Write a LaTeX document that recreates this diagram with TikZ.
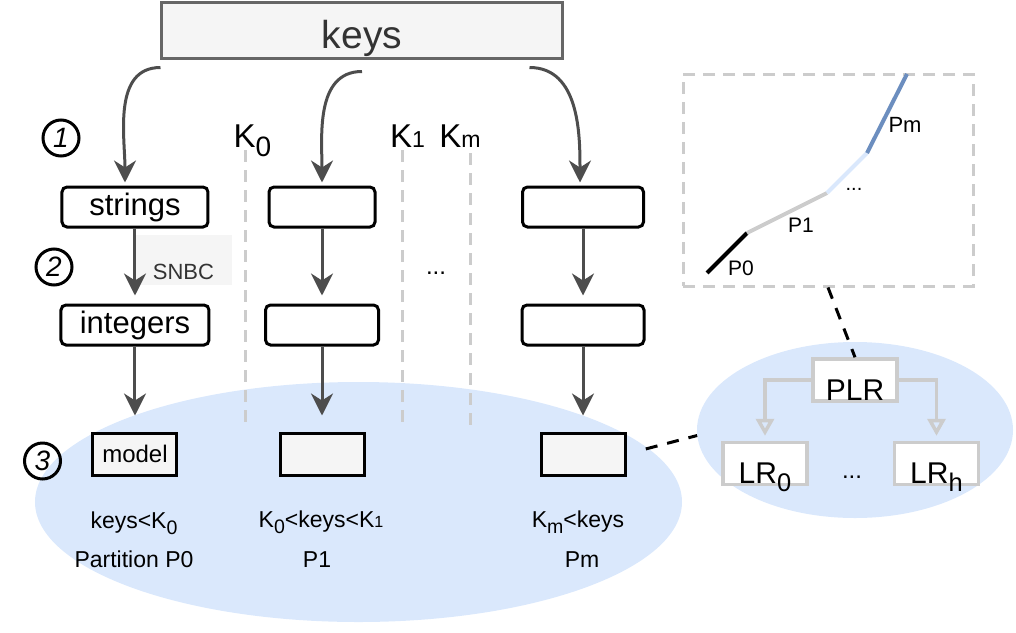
\documentclass[tikz,border=0pt]{standalone}
\usepackage{fontspec}
\setmainfont{Liberation Sans}
\usepackage{graphicx}
\usetikzlibrary{arrows.meta,shapes.geometric,positioning}

\definecolor{arrowgray}{HTML}{4D4D4D}
\definecolor{headgray}{HTML}{666666}
\definecolor{headtext}{HTML}{333333}
\definecolor{boxgray}{HTML}{F5F5F5}
\definecolor{sepgray}{HTML}{CCCCCC}
\definecolor{zoneblue}{HTML}{DAE8FC}
\definecolor{segblue}{HTML}{6C8EBF}

\newcommand{\lsub}[1]{\raisebox{-0.28em}{\scalebox{0.85}{#1}}}
\newcommand{\ssm}[1]{\scalebox{0.7}{#1}}

\tikzstyle{line} = [draw, -{Stealth[length=22pt, width=22pt, inset=7pt]}, line width=3pt, arrowgray]
\tikzstyle{tree} = [draw, -{Triangle[open, length=17pt, width=18pt]}, line width=3.5pt, sepgray]
\tikzstyle{link} = [draw, dash pattern=on 12pt off 10pt, line width=3pt, black]
\tikzstyle{sep} = [draw, dash pattern=on 12pt off 8pt, line width=3pt, sepgray]
\tikzstyle{knot} = [node distance=0mm]
\tikzstyle{head} = [draw=headgray, rectangle, fill=boxgray, text=headtext, line width=3pt, minimum width=400pt, minimum height=56pt, text height=44pt, text depth=8pt, inner ysep=2pt, font=\fontsize{39}{42}\selectfont, node distance=0mm]
\tikzstyle{stage} = [draw, rectangle, rounded corners=5pt, fill=white, line width=3pt, minimum height=40pt, font=\fontsize{31}{33}\selectfont, node distance=0mm]
\tikzstyle{part} = [draw, rectangle, fill=boxgray, line width=3pt, minimum width=84pt, minimum height=42pt, font=\fontsize{24}{26}\selectfont, node distance=0mm]
\tikzstyle{lr} = [draw=sepgray, rectangle, fill=white, line width=3.5pt, minimum width=84pt, minimum height=42pt, text height=40pt, text depth=0pt, inner sep=1pt, font=\fontsize{30}{32}\selectfont, node distance=0mm]
\tikzstyle{zone} = [ellipse, fill=zoneblue, inner sep=0pt, node distance=0mm]
\tikzstyle{num} = [draw, circle, line width=3pt, minimum size=36pt, inner sep=0pt, font=\fontsize{28}{30}\selectfont\itshape, node distance=0mm]
\tikzstyle{lbl} = [inner sep=0pt, font=\fontsize{23}{25}\selectfont, node distance=0mm]
\tikzstyle{klbl} = [inner sep=0pt, font=\fontsize{33}{35}\selectfont, node distance=0mm]

\begin{document}
\begin{tikzpicture}
\useasboundingbox (-362pt,30pt) rectangle (654pt,-602pt);
% topo
\node [head] (keys) {keys};
% fundos
\node [zone, right of=keys, xshift=-3.5pt, yshift=-472pt, minimum width=647pt, minimum height=240pt] (parts) {};
\node [zone, right of=keys, xshift=493pt, yshift=-400pt, minimum width=316pt, minimum height=176pt] (plrzone) {};
% limites
\node [klbl, right of=keys, xshift=-109.5pt, yshift=-111pt] (k0) {K\lsub{0}};
\node [klbl, right of=keys, xshift=45.5pt, yshift=-106.5pt] (k1) {K\ssm{1}};
\node [klbl, right of=keys, xshift=98pt, yshift=-106.5pt] (km) {K\ssm{m}};
\path [sep] (-116pt,-120pt) -- (-116pt,-395pt);
\path [sep] (40pt,-120pt) -- (40pt,-395pt);
\path [sep] (108pt,-123pt) -- (108pt,-400pt);
% primeiro nivel
\node [stage, right of=keys, xshift=-227pt, yshift=-177pt, minimum width=146pt] (strings) {strings};
\node [stage, right of=strings, xshift=187pt, minimum width=106pt] (bm1) {};
\node [stage, right of=bm1, xshift=261pt, minimum width=121pt] (br1) {};
% segundo nivel
\node [knot, fill=boxgray, right of=strings, xshift=48.5pt, yshift=-53pt, minimum width=97pt, minimum height=50pt, text height=38pt, text depth=0pt, inner sep=1pt, text=headtext, font=\fontsize{22}{24}\selectfont] (snbc) {SNBC};
\node [stage, below of=strings, yshift=-118pt, minimum width=148pt] (integers) {integers};
\node [stage, right of=integers, xshift=187pt, minimum width=113pt] (bm2) {};
\node [stage, right of=bm2, xshift=261pt, minimum width=122pt] (br2) {};
\node [lbl, right of=bm2, xshift=114pt, yshift=52pt, font=\fontsize{24}{26}\selectfont] (mdots) {...};
% terceiro nivel
\node [part, below of=integers, yshift=-129pt] (model) {model};
\node [part, right of=model, xshift=187pt] (bm3) {};
\node [part, right of=bm3, xshift=261pt] (br3) {};
\node [lbl, right of=model, xshift=-1pt, yshift=-69pt] (r0a) {keys<K\lsub{0}};
\node [lbl, right of=model, xshift=-1pt, yshift=-105pt] (r0b) {Partition P0};
\node [lbl, right of=bm3, xshift=-1pt, yshift=-68pt] (r1a) {K\lsub{0}<keys<K\ssm{1}};
\node [lbl, right of=bm3, xshift=-5pt, yshift=-106pt] (r1b) {P1};
\node [lbl, right of=br3, xshift=-5pt, yshift=-68pt] (rma) {K\lsub{m}<keys};
\node [lbl, right of=br3, xshift=-1pt, yshift=-106pt] (rmb) {Pm};
% etapas
\node [num, right of=strings, xshift=-74pt, yshift=69pt] (c1) {1};
\node [num, right of=strings, xshift=-81pt, yshift=-60pt] (c2) {2};
\node [num, right of=model, xshift=-92.5pt, yshift=-7pt] (c3) {3};
% painel
\node [sep, knot, rectangle, right of=keys, xshift=466pt, yshift=-150pt, minimum width=290pt, minimum height=212pt] (panel) {};
\coordinate [knot, right of=panel, xshift=-121pt, yshift=-93pt] (a0);
\coordinate [knot, right of=panel, xshift=-81pt, yshift=-53pt] (a1);
\coordinate [knot, right of=panel, xshift=-1pt, yshift=-13pt] (a2);
\coordinate [knot, right of=panel, xshift=39pt, yshift=27pt] (a3);
\coordinate [knot, right of=panel, xshift=79pt, yshift=106pt] (a4);
\path [draw, line width=4pt, black] (a0) -- (a1);
\path [draw, line width=4pt, sepgray] (a1) -- (a2);
\path [draw, line width=4pt, zoneblue] (a2) -- (a3);
\path [draw, line width=4pt, segblue] (a3) -- (a4);
\node [lbl, right of=panel, xshift=-87pt, yshift=-88pt, font=\fontsize{21}{23}\selectfont] (p0) {P0};
\node [lbl, right of=panel, xshift=-27pt, yshift=-45pt, font=\fontsize{21}{23}\selectfont] (p1) {P1};
\node [lbl, right of=panel, xshift=26pt, yshift=-9pt, font=\fontsize{20}{22}\selectfont] (pdots) {...};
\node [lbl, right of=panel, xshift=77pt, yshift=55pt, font=\fontsize{22}{24}\selectfont] (pm) {Pm};
% modelo PLR
\node [lr, right of=plrzone, yshift=50pt] (plr) {PLR};
\node [lr, right of=plrzone, xshift=-90pt, yshift=-33.5pt] (lr0) {LR\lsub{0}};
\node [lr, right of=plrzone, xshift=81.5pt, yshift=-33.5pt] (lrh) {LR\lsub{h}};
\node [lbl, right of=plrzone, xshift=-3pt, yshift=-47pt, font=\fontsize{24}{26}\selectfont] (lrdots) {...};
%arrows
\path [line, shorten >=3pt] ([yshift=-8pt]keys.south west) to[out=180, in=90] ([xshift=-10pt]strings.north);
\path [line, shorten >=3pt] ([yshift=-12pt]keys.south) to[out=180, in=90] (bm1.north);
\path [line, shorten >=3pt] ([xshift=-34pt, yshift=-8pt]keys.south east) to[out=0, in=90] ([xshift=-3pt]br1.north);
\path [line, shorten >=8pt] (strings) -- (integers);
\path [line, shorten >=8pt] (bm1) -- (bm2);
\path [line, shorten >=8pt] (br1) -- (br2);
\path [line, shorten >=16pt] (integers) -- (model);
\path [line, shorten >=16pt] (bm2) -- (bm3);
\path [line, shorten >=16pt] (br2) -- (br3);
\path [tree, shorten >=5pt] (plr) -| (lr0);
\path [tree, shorten >=5pt] (plr) -| (lrh);
\path [link] (panel.south) -- (plr.north);
\path [link, shorten <=20pt] (br3.east) -- (plrzone.182);
\end{tikzpicture}
\end{document}
